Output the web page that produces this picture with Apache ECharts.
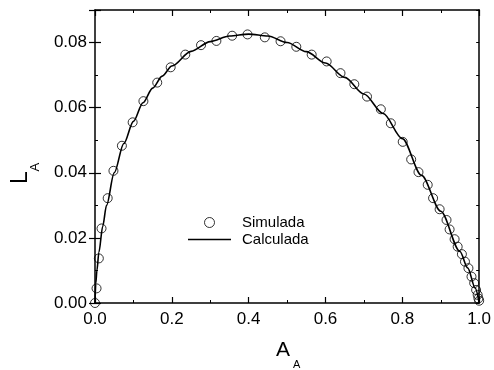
<!DOCTYPE html>
<html>
<head>
<meta charset="utf-8">
<script src="https://cdn.jsdelivr.net/npm/echarts@6/dist/echarts.min.js"></script>
<style>html,body{margin:0;padding:0;background:#fff;}#chart{width:494px;height:370px;}</style>
</head>
<body>
<div id="chart"></div>
<script>
const simX = [0.0, 0.004, 0.010, 0.017, 0.033, 0.048, 0.070, 0.098, 0.126, 0.162, 0.197, 0.235, 0.276, 0.316, 0.357, 0.397, 0.442, 0.483, 0.524, 0.564, 0.603, 0.639, 0.675, 0.708, 0.744, 0.770, 0.801, 0.823, 0.842, 0.866, 0.880, 0.897, 0.915, 0.923, 0.936, 0.944, 0.955, 0.963, 0.972, 0.980, 0.987, 0.992, 0.996, 0.998, 1.0];
const simY = [0.0, 0.0045, 0.0137, 0.0229, 0.0322, 0.0406, 0.0483, 0.0555, 0.0620, 0.0677, 0.0724, 0.0763, 0.0792, 0.0805, 0.0821, 0.0825, 0.0816, 0.0804, 0.0787, 0.0763, 0.0742, 0.0706, 0.0672, 0.0634, 0.0595, 0.0552, 0.0495, 0.0441, 0.0402, 0.0363, 0.0322, 0.0288, 0.0255, 0.0226, 0.0196, 0.0173, 0.0150, 0.0127, 0.0107, 0.0081, 0.0061, 0.0040, 0.0025, 0.0014, 0.0007];
const calcX = [0, 0.002, 0.005, 0.01, 0.02, 0.03, 0.05, 0.075, 0.1, 0.125, 0.15, 0.175, 0.2, 0.25, 0.3, 0.35, 0.4, 0.45, 0.5, 0.55, 0.6, 0.65, 0.7, 0.75, 0.8, 0.85, 0.9, 0.95, 0.97, 0.99, 1.0];
const calcY = [0, 0.006, 0.010, 0.0155, 0.0235, 0.0300, 0.0400, 0.0490, 0.0558, 0.0615, 0.0660, 0.0697, 0.0728, 0.0773, 0.0803, 0.0820, 0.0826, 0.0820, 0.0800, 0.0772, 0.0737, 0.0693, 0.0642, 0.0582, 0.0505, 0.0392, 0.0282, 0.0158, 0.0108, 0.0045, 0];
const xTicks = ['0.0', '0.2', '0.4', '0.6', '0.8', '1.0'];
const yTicks = ['0.00', '0.02', '0.04', '0.06', '0.08'];
const seriesNames = ['Simulada', 'Calculada'];
const xTitle = ['A', 'A'];
const yTitle = ['L', 'A'];

const FONT = '"Liberation Sans", Arial, sans-serif';
const chart = echarts.init(document.getElementById('chart'), null, {renderer: 'canvas'});

function yLabel(v) {
  const k = Math.round(v * 100);
  if (k % 2 !== 0) return '';
  const s = (k / 100).toFixed(2);
  return yTicks.indexOf(s) >= 0 ? s : '';
}
function xLabel(v) {
  const s = v.toFixed(1);
  return xTicks.indexOf(s) >= 0 ? s : '';
}

const baseX = {
  type: 'value', min: 0, max: 1, interval: 0.2,
  axisLine: {show: true, onZero: false, lineStyle: {color: '#000', width: 1.5}},
  splitLine: {show: false},
  axisTick: {show: true, inside: true, length: 6, lineStyle: {color: '#000', width: 1.2}},
  minorTick: {show: true, splitNumber: 2, length: 3, lineStyle: {color: '#000', width: 1}}
};
const baseYMinor = {
  type: 'value', min: 0, max: 0.09, interval: 0.01,
  axisLine: {show: true, onZero: false, lineStyle: {color: '#000', width: 1.5}},
  splitLine: {show: false},
  axisTick: {show: true, inside: true, length: 3, lineStyle: {color: '#000', width: 1}}
};
const baseYMajor = {
  type: 'value', min: 0, max: 0.09, interval: 0.02,
  axisLine: {show: false},
  axisLabel: {show: false},
  splitLine: {show: false},
  axisTick: {show: true, inside: true, length: 6, lineStyle: {color: '#000', width: 1.2}}
};

chart.setOption({
  animation: false,
  backgroundColor: '#fff',
  grid: {left: 95, top: 10, width: 391, height: 293, containLabel: false},
  xAxis: [
    Object.assign({}, baseX, {position: 'bottom',
      axisLabel: {show: true, margin: 8, color: '#000', fontSize: 17, fontFamily: FONT, formatter: xLabel, showMaxLabel: true, showMinLabel: true}}),
    Object.assign({}, baseX, {position: 'top', axisLabel: {show: false}})
  ],
  yAxis: [
    Object.assign({}, baseYMinor, {position: 'left',
      axisLabel: {show: true, margin: 8, color: '#000', fontSize: 17, fontFamily: FONT, formatter: yLabel}}),
    Object.assign({}, baseYMajor, {position: 'left'}),
    Object.assign({}, baseYMinor, {position: 'right', axisLabel: {show: false}}),
    Object.assign({}, baseYMajor, {position: 'right'})
  ],
  legend: {
    orient: 'vertical', left: 188, top: 215, padding: 0,
    itemWidth: 43, itemHeight: 10, itemGap: 2,
    symbolKeepAspect: true,
    data: [
      {name: seriesNames[0], icon: 'circle', itemStyle: {color: 'rgba(0,0,0,0)', borderColor: '#000', borderWidth: 1}},
      {name: seriesNames[1], icon: 'path://M0 0H100V3.4H0Z', itemStyle: {color: '#000', borderWidth: 0}}
    ],
    textStyle: {color: '#000', fontSize: 15, fontFamily: FONT, padding: [0, 0, 0, 6]},
    selectedMode: false
  },
  series: [
    {
      name: seriesNames[0], type: 'scatter', xAxisIndex: 0, yAxisIndex: 0,
      symbol: 'circle', symbolSize: 9,
      itemStyle: {color: 'rgba(0,0,0,0)', borderColor: '#000', borderWidth: 1},
      data: simX.map((x, i) => [x, simY[i]]),
      z: 3
    },
    {
      name: seriesNames[1], type: 'line', xAxisIndex: 0, yAxisIndex: 0,
      symbol: 'none', smooth: 0.3, smoothMonotone: 'x',
      lineStyle: {color: '#000', width: 1.6},
      itemStyle: {color: '#000'},
      data: calcX.map((x, i) => [x, calcY[i]]),
      z: 2
    }
  ],
  graphic: [
    {type: 'text', left: 276, top: 340, style: {text: xTitle[0], font: '21px ' + FONT, fill: '#000'}},
    {type: 'text', left: 293, top: 359, style: {text: xTitle[1], font: '11px ' + FONT, fill: '#000'}},
    {type: 'group', x: 29, y: 184, rotation: Math.PI / 2, children: [
      {type: 'text', x: 0, y: -8.5, style: {text: yTitle[0], font: '23px ' + FONT, fill: '#000', verticalAlign: 'middle', align: 'left'}},
      {type: 'text', x: 12.5, y: 6.5, style: {text: yTitle[1], font: '13px ' + FONT, fill: '#000', verticalAlign: 'middle', align: 'left'}}
    ]}
  ]
});
</script>
</body>
</html>
